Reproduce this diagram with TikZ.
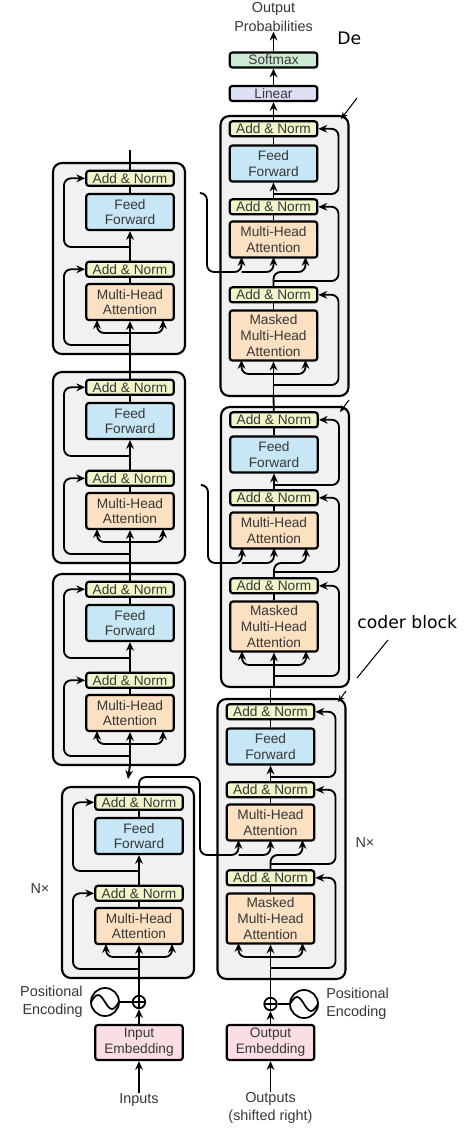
\documentclass[tikz,border=0pt]{standalone}
\usepackage{fontspec}
\setmainfont{Liberation Sans}
\newfontfamily\noteFont{DejaVu Sans}
\usetikzlibrary{positioning, arrows.meta}
\definecolor{normFill}{RGB}{242,245,202}
\definecolor{ffFill}{RGB}{199,231,246}
\definecolor{attnFill}{RGB}{252,224,194}
\definecolor{embFill}{RGB}{250,222,227}
\definecolor{softFill}{RGB}{205,234,212}
\definecolor{linFill}{RGB}{221,223,243}
\definecolor{blockFill}{RGB}{241,241,242}
\definecolor{textGray}{RGB}{55,55,55}
\newcommand{\boxFontSize}{\fontsize{7.8}{9}\selectfont}
\newcommand{\labelFontSize}{\fontsize{8.2}{10.5}\selectfont}
\tikzstyle{arrow}=[-{Stealth[length=5pt,width=4.4pt]}]
\tikzstyle{pointer}=[line width=0.6pt, -{Stealth[length=4pt,width=3.4pt]}]
\tikzstyle{wire}=[line width=1.05pt, rounded corners=4pt]
\tikzstyle{layerBlock}=[draw, line width=1.2pt, rounded corners=5pt, fill=blockFill, inner sep=0pt]
\tikzstyle{unit}=[draw, line width=1.25pt, rounded corners=1.5pt, minimum width=1.75cm, inner sep=0pt, align=center, text=textGray, font=\boxFontSize]
\tikzstyle{addNorm}=[unit, fill=normFill, minimum height=0.3cm]
\tikzstyle{feedFwd}=[unit, fill=ffFill, minimum height=0.72cm]
\tikzstyle{attn}=[unit, fill=attnFill, minimum height=0.72cm]
\tikzstyle{maskedAttn}=[unit, fill=attnFill, minimum height=1cm]
\tikzstyle{embed}=[unit, fill=embFill, minimum height=0.7cm]
\tikzstyle{outerLabel}=[text=textGray, font=\labelFontSize, align=center, inner sep=0pt]
\tikzstyle{addCircle}=[circle, draw, line width=1pt, minimum size=0.25cm, inner sep=0pt, fill=white,
  path picture={\draw[line width=0.8pt] (path picture bounding box.north) -- (path picture bounding box.south)
    (path picture bounding box.west) -- (path picture bounding box.east);}]
\tikzstyle{sineCircle}=[circle, draw, line width=1pt, minimum size=0.56cm, inner sep=0pt,
  path picture={\draw[line width=1pt] (path picture bounding box.west) sin +(7,-7) cos +(7,7) sin +(7,7) cos +(7,-7);}]
% encoder layer: name, x of the units, y of the top of the block
\newcommand\encoderLayer{}
\def\encoderLayer(#1,#2,#3){%
  \node[layerBlock, minimum width=2.64cm, minimum height=3.82cm] (#1Blk) at (#2-11,#3+95.5) {};
  \node[attn] (#1Mha) at (#2,#3+139) {Multi-Head\\Attention};
  \node[addNorm, above=0.1cm of #1Mha] (#1NormA) {Add \& Norm};
  \node[feedFwd] (#1Ff) at (#2,#3+49) {Feed\\Forward};
  \node[addNorm, above=0.12cm of #1Ff] (#1NormB) {Add \& Norm};
  \coordinate (#1In) at (#2,#3+191);
  \coordinate (#1Fork) at (#2,#3+170);
  \coordinate (#1SplitA) at (#2,#3+182);
  \coordinate (#1SplitB) at (#2,#3+84);
  \coordinate (#1LoopA) at (#2-66,#3+150);
  \coordinate (#1LoopB) at (#2-66,#3+50);
  \coordinate (#1QIn) at (#2-33,#3+157);
  \coordinate (#1KIn) at (#2+33,#3+157);
  \draw[wire, arrow] (#1In) -- (#1Mha);
  \draw[wire, arrow] (#1Fork) -| (#1QIn);
  \draw[wire, arrow] (#1Fork) -| (#1KIn);
  \draw[wire] (#1Mha) -- (#1NormA);
  \draw[wire, arrow] (#1SplitA) -| (#1LoopA) |- (#1NormA);
  \draw[wire, arrow] (#1NormA) -- (#1Ff);
  \draw[wire] (#1Ff) -- (#1NormB);
  \draw[wire, arrow] (#1SplitB) -| (#1LoopB) |- (#1NormB);
}
% decoder layer: name, x of the units, y of the top of the block
\newcommand\decoderLayer{}
\def\decoderLayer(#1,#2,#3){%
  \node[layerBlock, minimum width=2.56cm, minimum height=5.6cm] (#1Blk) at (#2+11,#3+140) {};
  \node[maskedAttn] (#1Mmha) at (#2,#3+219.5) {Masked\\Multi-Head\\Attention};
  \node[addNorm, above=0.12cm of #1Mmha] (#1NormA) {Add \& Norm};
  \node[attn] (#1Mha) at (#2,#3+123.5) {Multi-Head\\Attention};
  \node[addNorm, above=0.1cm of #1Mha] (#1NormB) {Add \& Norm};
  \node[feedFwd] (#1Ff) at (#2,#3+47.5) {Feed\\Forward};
  \node[addNorm, above=0.14cm of #1Ff] (#1NormC) {Add \& Norm};
  \coordinate (#1In) at (#2,#3+280);
  \coordinate (#1Fork) at (#2,#3+258);
  \coordinate (#1MaskL) at (#2-32,#3+244);
  \coordinate (#1MaskR) at (#2+32,#3+244);
  \coordinate (#1SplitA) at (#2,#3+269);
  \coordinate (#1LoopA) at (#2+65,#3+230);
  \coordinate (#1Bend) at (#2+16,#3+156);
  \coordinate (#1QIn) at (#2+32,#3+141);
  \coordinate (#1SplitB) at (#2,#3+165);
  \coordinate (#1LoopB) at (#2+65,#3+130);
  \coordinate (#1SplitC) at (#2,#3+78);
  \coordinate (#1LoopC) at (#2+65,#3+40);
  \coordinate (#1Cross) at (#2-32,#3+156);
  \coordinate (#1KIn) at (#2-32,#3+141);
  \coordinate (#1VIn) at (#2,#3+141);
  \draw[wire, arrow] (#1In) -- (#1Mmha);
  \draw[wire, arrow] (#1Fork) -| (#1MaskL);
  \draw[wire, arrow] (#1Fork) -| (#1MaskR);
  \draw[wire] (#1Mmha) -- (#1NormA);
  \draw[wire, arrow] (#1SplitA) -| (#1LoopA) |- (#1NormA);
  \draw[wire, arrow] (#1NormA) |- (#1Bend) -| (#1QIn);
  \draw[wire, arrow] (#1SplitB) -| (#1LoopB) |- (#1NormB);
  \draw[wire, arrow] (#1Cross) -| (#1VIn);
  \draw[wire] (#1Mha) -- (#1NormB);
  \draw[wire, arrow] (#1NormB) -- (#1Ff);
  \draw[wire] (#1Ff) -- (#1NormC);
  \draw[wire, arrow] (#1SplitC) -| (#1LoopC) |- (#1NormC);
}

\begin{document}
\begin{tikzpicture}[x=0.02cm, y=-0.02cm]
    \useasboundingbox (0,0) rectangle (470,1144);
    % encoder stack
    \encoderLayer(e3,130,163)
    \encoderLayer(e2,130,372)
    \encoderLayer(e1,130,574)
    \encoderLayer(e0,139,787)
    \coordinate (e3Top) at (130,150);
    \coordinate (e1Tail) at (128,779);
    \draw[wire] (e3NormB) -- (e3Top);
    \draw[wire] (e2NormB) -- (e3In);
    \draw[wire] (e1NormB) -- (e2In);
    \draw[wire, arrow] (e1In) -- (e1Tail);
    \node[outerLabel] (encN) at (40,889) {N×};
    % input side
    \node[embed] (inEmb) at (139,1042.5) {Input\\Embedding};
    \node[addCircle] (inAdd) at (139,1002) {};
    \node[sineCircle] (inPos) at (105,1002) {};
    \node[outerLabel, align=right, anchor=east] (inPosLbl) at (83,1002) {Positional\\Encoding};
    \node[outerLabel] (inputs) at (139,1100) {Inputs};
    \draw[wire, arrow] (inputs) -- (inEmb);
    \draw[wire, arrow] (inEmb) -- (inAdd);
    \draw[wire] (inPos) -- (inAdd);
    \draw[wire] (inAdd) -- (e0In);
    % decoder stack
    \decoderLayer(d2,273.5,116)
    \decoderLayer(d1,274,407)
    \decoderLayer(d0,270.5,699)
    \coordinate (d0Top) at (270.5,689);
    \draw[wire] (d0NormC) -- (d0Top);
    \draw[wire] (d1NormC) -- (d2In);
    \node[outerLabel] (decN) at (365,843) {N×};
    \node[unit, fill=linFill, minimum height=0.3cm] (linear) at (273.5,93.5) {Linear};
    \node[unit, fill=softFill, minimum height=0.3cm] (softmax) at (273.5,60) {Softmax};
    \node[outerLabel] (outProb) at (273.5,17) {Output\\Probabilities};
    \draw[wire, arrow] (d2NormC) -- (linear);
    \draw[wire, arrow] (linear) -- (softmax);
    \draw[wire, arrow] (softmax) -- (outProb);
    % output side
    \node[embed] (outEmb) at (270.5,1042.5) {Output\\Embedding};
    \node[addCircle] (outAdd) at (270.5,1004) {};
    \node[sineCircle] (outPos) at (304,1004) {};
    \node[outerLabel, align=left, anchor=west] (outPosLbl) at (326,1004) {Positional\\Encoding};
    \node[outerLabel] (outputs) at (270.5,1108) {Outputs\\(shifted right)};
    \draw[wire, arrow] (outputs) -- (outEmb);
    \draw[wire, arrow] (outEmb) -- (outAdd);
    \draw[wire] (outPos) -- (outAdd);
    \draw[wire] (outAdd) -- (d0In);
    % encoder output into the decoders
    \coordinate (encTurn) at (170,777);
    \coordinate (d0Drop) at (200,855);
    \coordinate (d1Src) at (202,485);
    \coordinate (d1Drop) at (208,563);
    \coordinate (d2Src) at (201,193);
    \coordinate (d2Drop) at (207,272);
    \draw[wire, arrow] (e0NormB) |- (encTurn) -| (d0Drop) -| (d0KIn);
    \draw[wire, arrow] (d1Src) -| (d1Drop) -| (d1KIn);
    \draw[wire, arrow] (d2Src) -| (d2Drop) -| (d2KIn);
    % notes
    \coordinate (d2Lead) at (357,98);
    \coordinate (d2Corner) at (341,119);
    \coordinate (d1Lead) at (349,400);
    \coordinate (d1Corner) at (340,412);
    \coordinate (d0Lead) at (346,691);
    \coordinate (d0Corner) at (338,702);
    \coordinate (noteFrom) at (388,640);
    \coordinate (noteTo) at (357,678);
    \draw[pointer] (d2Lead) -- (d2Corner);
    \draw[pointer] (d1Lead) -- (d1Corner);
    \draw[pointer] (d0Lead) -- (d0Corner);
    \draw[line width=0.6pt] (noteFrom) -- (noteTo);
    \node[font=\noteFont\fontsize{9.8}{12}\selectfont, anchor=west, inner sep=0pt] (noteCoder) at (357,622) {coder block};
    \node[font=\noteFont\fontsize{9.8}{12}\selectfont, anchor=west, inner sep=0pt] (noteDe) at (337,38) {De};
\end{tikzpicture}
\end{document}
